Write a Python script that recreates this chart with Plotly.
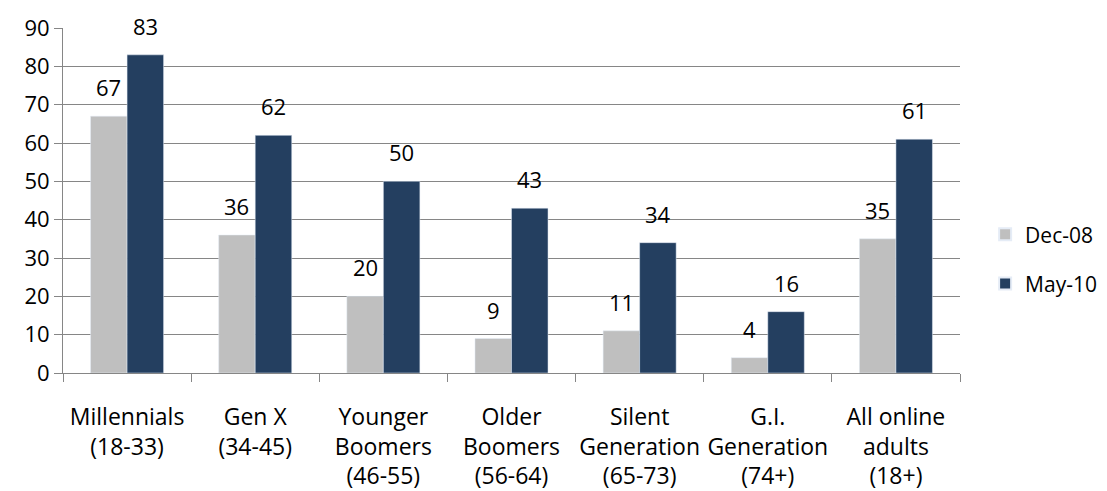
import plotly.graph_objects as go

categories = ["Millennials<br>(18-33)", "Gen X<br>(34-45)", "Younger<br>Boomers<br>(46-55)",
              "Older<br>Boomers<br>(56-64)", "Silent<br>Generation<br>(65-73)",
              "G.I.<br>Generation<br>(74+)", "All online<br>adults<br>(18+)"]
dec08 = [67, 36, 20, 9, 11, 4, 35]
may10 = [83, 62, 50, 43, 34, 16, 61]
y_ticks = [0, 10, 20, 30, 40, 50, 60, 70, 80, 90]

FONT = "Open Sans"
FS = 22
fig = go.Figure()
fig.add_trace(go.Bar(name="Dec-08", x=categories, y=dec08, marker_color="#BFBFBF",
                     legendgroup="a"))
fig.add_trace(go.Bar(name="May-10", x=categories, y=may10, marker_color="#243F60",
                     legendgroup="b"))

# value labels above bars
for vals, shift in ((dec08, -18.3), (may10, 18.3)):
    for c, v in zip(categories, vals):
        fig.add_annotation(x=c, y=v, text=str(v), showarrow=False, xshift=shift,
                           yanchor="bottom", yshift=12,
                           font=dict(size=FS, family=FONT, color="#000000"))

fig.update_layout(
    width=1099, height=483,
    margin=dict(l=55, r=147, t=20, b=118, autoexpand=False),
    barmode="group", bargap=0.43, bargroupgap=0,
    plot_bgcolor="white", paper_bgcolor="white",
    font=dict(family=FONT, size=FS, color="#000000"),
    showlegend=True,
    legend=dict(x=1.028, y=0.33, yanchor="middle", xanchor="left",
                font=dict(size=21, family=FONT), traceorder="grouped", tracegroupgap=19,
                itemsizing="constant", itemwidth=30, bgcolor="rgba(0,0,0,0)"),
)
fig.update_yaxes(range=[0, 90], tickvals=y_ticks, showgrid=True, gridcolor="#868686", gridwidth=1,
                 showline=True, linecolor="#868686", linewidth=1, ticks="outside", ticklen=8,
                 tickcolor="#868686", zeroline=False, tickfont=dict(size=FS, family=FONT),
                 automargin=False)
fig.update_xaxes(showline=True, linecolor="#868686", linewidth=1, ticks="outside", ticklen=8,
                 tickcolor="#868686", tickson="boundaries", tickfont=dict(size=23, family=FONT),
                 tickangle=0, automargin=False, ticklabelstandoff=23)

fig.write_html("out.html")
